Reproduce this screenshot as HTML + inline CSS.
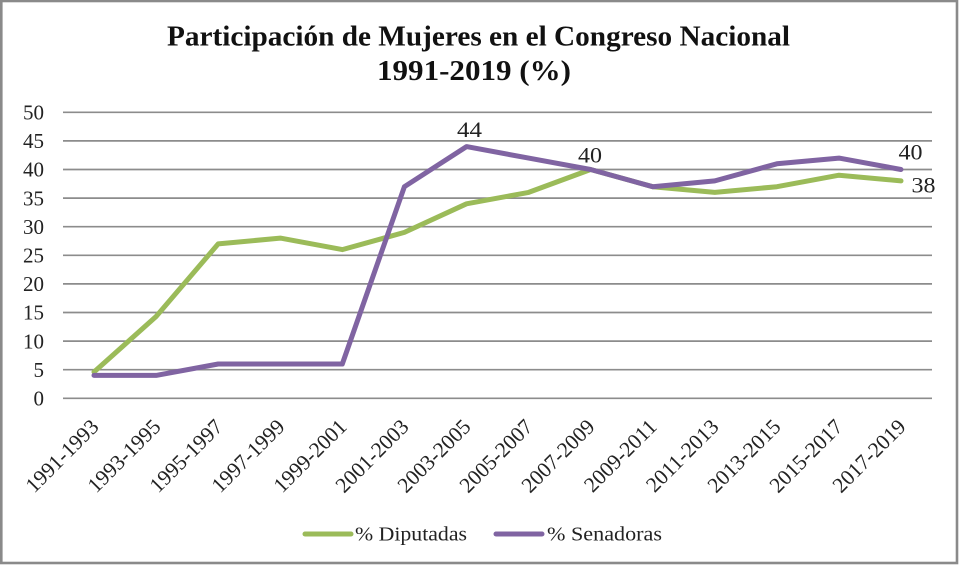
<!DOCTYPE html>
<html>
<head>
<meta charset="utf-8">
<style>
  html,body{margin:0;padding:0;background:#fff;}
  svg{display:block;}
  text{font-family:"Liberation Serif", serif;}
</style>
</head>
<body>
<svg width="959" height="566" viewBox="0 0 959 566" xmlns="http://www.w3.org/2000/svg">
  <rect x="0" y="0" width="959" height="566" fill="#ffffff"/>
  <rect x="1.3" y="1" width="955.7" height="562" fill="none" stroke="#8a8a8a" stroke-width="2.6"/>

  <!-- Title -->
  <text x="167" y="45.5" font-size="28" font-weight="bold" fill="#111" textLength="623" lengthAdjust="spacingAndGlyphs">Participación de Mujeres en el Congreso Nacional</text>
  <text x="377" y="80" font-size="28" font-weight="bold" fill="#111" textLength="194" lengthAdjust="spacingAndGlyphs">1991-2019 (%)</text>

  <!-- Gridlines -->
  <g stroke="#8c8c8c" stroke-width="1.7">
    <line x1="63" x2="932" y1="112.3" y2="112.3"/>
    <line x1="63" x2="932" y1="140.9" y2="140.9"/>
    <line x1="63" x2="932" y1="169.5" y2="169.5"/>
    <line x1="63" x2="932" y1="198.1" y2="198.1"/>
    <line x1="63" x2="932" y1="226.7" y2="226.7"/>
    <line x1="63" x2="932" y1="255.3" y2="255.3"/>
    <line x1="63" x2="932" y1="283.9" y2="283.9"/>
    <line x1="63" x2="932" y1="312.5" y2="312.5"/>
    <line x1="63" x2="932" y1="341.1" y2="341.1"/>
    <line x1="63" x2="932" y1="369.7" y2="369.7"/>
    <line x1="63" x2="932" y1="398.3" y2="398.3"/>
  </g>

  <!-- Y labels -->
  <g font-size="21" fill="#222" text-anchor="end">
    <text x="44" y="119.5">50</text>
    <text x="44" y="148.1">45</text>
    <text x="44" y="176.7">40</text>
    <text x="44" y="205.3">35</text>
    <text x="44" y="233.9">30</text>
    <text x="44" y="262.5">25</text>
    <text x="44" y="291.1">20</text>
    <text x="44" y="319.7">15</text>
    <text x="44" y="348.3">10</text>
    <text x="44" y="376.9">5</text>
    <text x="44" y="405.5">0</text>
  </g>

  <!-- X labels -->
  <g font-size="21.5" fill="#222" text-anchor="end">
    <text transform="translate(100,428) rotate(-45)">1991-1993</text>
    <text transform="translate(162,428) rotate(-45)">1993-1995</text>
    <text transform="translate(224,428) rotate(-45)">1995-1997</text>
    <text transform="translate(286,428) rotate(-45)">1997-1999</text>
    <text transform="translate(348,428) rotate(-45)">1999-2001</text>
    <text transform="translate(410,428) rotate(-45)">2001-2003</text>
    <text transform="translate(472,428) rotate(-45)">2003-2005</text>
    <text transform="translate(534,428) rotate(-45)">2005-2007</text>
    <text transform="translate(596,428) rotate(-45)">2007-2009</text>
    <text transform="translate(658,428) rotate(-45)">2009-2011</text>
    <text transform="translate(720,428) rotate(-45)">2011-2013</text>
    <text transform="translate(782,428) rotate(-45)">2013-2015</text>
    <text transform="translate(844,428) rotate(-45)">2015-2017</text>
    <text transform="translate(907,428) rotate(-45)">2017-2019</text>
  </g>

  <!-- Series: Diputadas (green) -->
  <polyline fill="none" stroke="#9BBB59" stroke-width="5" stroke-linejoin="round" stroke-linecap="round"
    points="94.0,372.0 156.1,316.5 218.2,243.9 280.3,238.1 342.3,249.6 404.4,232.4 466.5,203.8 528.6,192.4 590.6,169.5 652.7,186.7 714.8,192.4 776.9,186.7 839.0,175.2 901.0,180.9"/>
  <!-- Series: Senadoras (purple) -->
  <polyline fill="none" stroke="#8064A2" stroke-width="5" stroke-linejoin="round" stroke-linecap="round"
    points="94.0,375.4 156.1,375.4 218.2,364.0 280.3,364.0 342.3,364.0 404.4,186.7 466.5,146.6 528.6,158.1 590.6,169.5 652.7,186.7 714.8,180.9 776.9,163.8 839.0,158.1 901.0,169.5"/>

  <!-- Data labels -->
  <g font-size="22" fill="#222">
    <text x="469.5" y="137" text-anchor="middle" textLength="25" lengthAdjust="spacingAndGlyphs">44</text>
    <text x="590" y="162.5" text-anchor="middle" textLength="24" lengthAdjust="spacingAndGlyphs">40</text>
    <text x="898.5" y="159.5" textLength="24" lengthAdjust="spacingAndGlyphs">40</text>
    <text x="911.5" y="192.5" textLength="24" lengthAdjust="spacingAndGlyphs">38</text>
  </g>

  <!-- Legend -->
  <line x1="305" x2="351" y1="534" y2="534" stroke="#9BBB59" stroke-width="5" stroke-linecap="round"/>
  <text x="355" y="540.5" font-size="20.5" fill="#222" textLength="112" lengthAdjust="spacingAndGlyphs">% Diputadas</text>
  <line x1="496" x2="542" y1="534" y2="534" stroke="#8064A2" stroke-width="5" stroke-linecap="round"/>
  <text x="547" y="540.5" font-size="20.5" fill="#222" textLength="115" lengthAdjust="spacingAndGlyphs">% Senadoras</text>
</svg>
</body>
</html>
